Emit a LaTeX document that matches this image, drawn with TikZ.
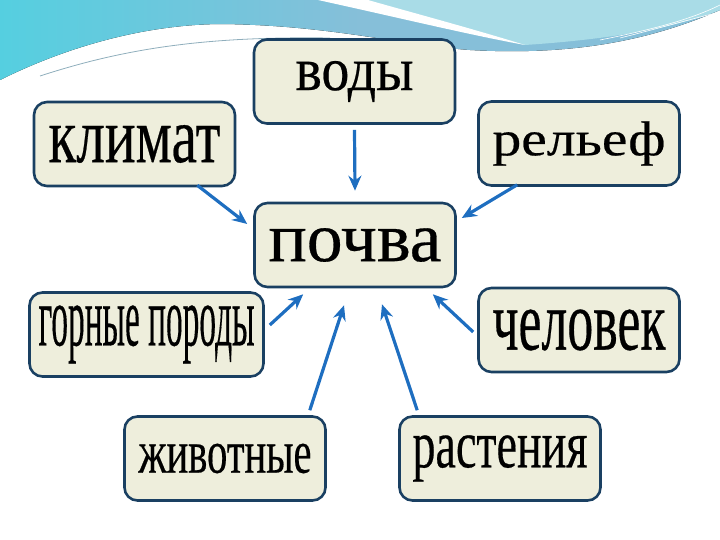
\documentclass[tikz,border=0pt]{standalone}
\usepackage{fontspec}
\setmainfont{Liberation Serif}
\newfontfamily\boxfont[FakeBold=0.4]{Liberation Serif}
\usepackage{graphicx}
\usetikzlibrary{arrows.meta}
\definecolor{framecolore}{HTML}{1A4062}
\definecolor{fillcolore}{HTML}{EEEEDC}
\definecolor{arrowcolore}{HTML}{1E6EC0}
\definecolor{skyblue}{HTML}{86BFD9}
\definecolor{skylight}{HTML}{A9DCE7}
\definecolor{skycyan}{HTML}{55CFE0}
\definecolor{swooshgrey}{HTML}{8FAEBC}
\colorlet{framecolor}{framecolore}
\colorlet{fillcolor}{fillcolore}
\colorlet{arrowcolor}{arrowcolore}
\newcommand{\stretchword}[3]{% width, height, word
\resizebox{#1pt}{#2pt}{\boxfont #3}}
\tikzstyle{mybox} = [
    draw=framecolor,
    fill=fillcolor,
    line width=2.6pt,
    rectangle,
    rounded corners=13pt,
    minimum width=201pt,
    minimum height=84pt,
    inner sep=0pt
    ]
\tikzstyle{myarrow} = [
    draw=arrowcolor,
    line width=3.2pt,
    -{Stealth[length=15pt,width=13pt,inset=5pt]}
    ]

\begin{document}
\begin{tikzpicture}[x=1pt,y=-1pt]
\useasboundingbox (0,0) rectangle (720,540);
% background swoosh
\fill[left color=skycyan, right color=skyblue, middle color=skyblue]
    (0,0) -- (720,0) -- (720,10)
    .. controls (640,45) and (560,55) .. (470,50)
    .. controls (400,45) and (330,25) .. (220,24)
    .. controls (130,25) and (50,55) .. (0,80) -- cycle;
\fill[skylight] (330,0) .. controls (420,20) and (480,35) .. (525,45)
    .. controls (600,40) and (670,30) .. (720,10) -- (720,0) -- cycle;
\fill[white] (318,0) .. controls (400,18) and (470,35) .. (525,45)
    .. controls (470,28) and (410,12) .. (368,0) -- cycle;
\draw[swooshgrey, line width=0.8pt] (40,76) .. controls (120,50) and (200,36) .. (330,38);
\draw[white, line width=0.6pt] (600,40) .. controls (650,30) and (690,20) .. (720,5);
\draw[white, line width=0.6pt] (620,38) .. controls (660,28) and (695,18) .. (720,12);

\node[mybox] (vody) at (354.5,81.5) {\stretchword{118}{29}{воды}};
\node[mybox] (klimat) at (134.5,144) {\stretchword{172}{37}{климат}};
\node[mybox] (relef) at (579,143.5) {\stretchword{173}{34}{рельеф}};
\node[mybox] (pochva) at (355,245) {\stretchword{173}{33}{почва}};
\node[mybox, minimum width=234pt] (gornye) at (146.5,334.5) {\stretchword{216}{40}{горные породы}};
\node[mybox] (chelovek) at (579,330) {\stretchword{173}{40}{человек}};
\node[mybox] (zhivotnye) at (225,458.5) {\stretchword{173}{29}{животные}};
\node[mybox] (rastenia) at (500,458.5) {\stretchword{175}{32}{растения}};

\draw[myarrow] ([yshift=-5pt]vody.south) -- ([yshift=11pt]pochva.north);
\draw[myarrow] ([xshift=-39pt,yshift=2pt]klimat.south east) -- ([xshift=-6pt,yshift=21pt]pochva.west);
\draw[myarrow] ([xshift=40pt,yshift=2pt]relef.south west) -- ([xshift=5pt,yshift=27pt]pochva.east);
\draw[myarrow] ([xshift=5pt,yshift=9.5pt]gornye.east) -- ([xshift=50pt,yshift=-6pt]pochva.south west);
\draw[myarrow] ([xshift=-17pt,yshift=5pt]zhivotnye.north east) -- ([xshift=-11pt,yshift=-17pt]pochva.south);
\draw[myarrow] ([xshift=19pt,yshift=5pt]rastenia.north west) -- ([xshift=27pt,yshift=-16pt]pochva.south);
\draw[myarrow] ([xshift=-4pt,yshift=-2pt]chelovek.west) -- ([xshift=-24pt,yshift=-6pt]pochva.south east);
\end{tikzpicture}
\end{document}
